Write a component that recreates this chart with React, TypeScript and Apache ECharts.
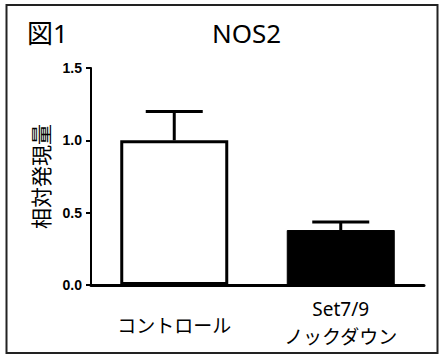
import React, { useEffect, useRef } from "react";
import * as echarts from "echarts";

const categories = ["コントロール", "Set7/9\nノックダウン"];
const means = [1.0, 0.38];
const errorTops = [1.2, 0.435];
const yTicks = [0, 0.5, 1.0, 1.5];

const CJK = '"Noto Sans", "Noto Sans CJK JP", sans-serif';

export default function App() {
  const ref = useRef<HTMLDivElement>(null);
  useEffect(() => {
    if (!ref.current) return;
    const chart = echarts.init(ref.current, undefined, { renderer: "svg" });
    const option: any = {
      animation: false,
      backgroundColor: "#ffffff",
      title: [
        {
          text: "図1",
          left: 27,
          top: 17,
          padding: 0,
          textStyle: { fontFamily: CJK, fontSize: 26, fontWeight: "normal", color: "#000", lineHeight: 32 },
        },
        {
          text: "NOS2",
          left: 212,
          top: 17,
          padding: 0,
          textStyle: { fontFamily: CJK, fontSize: 26, fontWeight: "normal", color: "#000", lineHeight: 32 },
        },
      ],
      graphic: [
        {
          type: "rect",
          shape: { x: 6.5, y: 5, width: 431, height: 348 },
          style: { fill: "none", stroke: "#222", lineWidth: 2 },
          z: 100,
        },
      ],
      grid: { left: 91, right: 16, top: 68, bottom: 68, containLabel: false },
      xAxis: {
        type: "category",
        data: categories.map((c, i) =>
          i === 0 ? { value: c, textStyle: { lineHeight: 62 } } : { value: c }
        ),
        axisLine: { lineStyle: { color: "#000", width: 3 } },
        axisTick: { show: false },
        axisLabel: {
          margin: 10,
          fontFamily: CJK,
          fontSize: 19,
          color: "#000",
          lineHeight: 28,
          interval: 0,
        },
      },
      yAxis: {
        type: "value",
        min: yTicks[0],
        max: yTicks[yTicks.length - 1],
        interval: 0.5,
        name: "相対発現量",
        nameLocation: "middle",
        nameRotate: 90,
        nameGap: 40,
        nameTextStyle: { fontFamily: CJK, fontSize: 21, color: "#000" },
        axisLine: { show: true, lineStyle: { color: "#000", width: 2 } },
        axisTick: { show: true, length: 5, lineStyle: { color: "#000", width: 2 } },
        splitLine: { show: false },
        axisLabel: {
          margin: 9,
          fontFamily: '"Liberation Sans", Arial, sans-serif',
          fontWeight: "bold",
          fontSize: 14,
          color: "#000",
          formatter: (v: number) => v.toFixed(1),
        },
      },
      series: [
        {
          type: "bar",
          barWidth: 108,
          data: means.map((v, i) =>
            i === 0
              ? { value: v, itemStyle: { color: "#fff", borderColor: "#000", borderWidth: 3 } }
              : { value: v, itemStyle: { color: "#000", borderColor: "#000", borderWidth: 1 } }
          ),
          z: 2,
        },
        {
          type: "custom",
          z: 3,
          data: means.map((v, i) => [i, v, errorTops[i]]),
          renderItem: (params: any, api: any) => {
            const base = api.coord([api.value(0), api.value(1)]);
            const top = api.coord([api.value(0), api.value(2)]);
            const half = 28.5;
            const style = { stroke: "#000", lineWidth: 3 };
            return {
              type: "group",
              children: [
                { type: "line", shape: { x1: base[0], y1: base[1], x2: top[0], y2: top[1] }, style },
                { type: "line", shape: { x1: top[0] - half, y1: top[1], x2: top[0] + half, y2: top[1] }, style },
              ],
            };
          },
        },
      ],
    };
    chart.setOption(option);
    return () => chart.dispose();
  }, []);
  return (
    <div
      ref={ref}
      style={{ position: "fixed", left: 0, top: 0, width: 440, height: 357 }}
    />
  );
}
